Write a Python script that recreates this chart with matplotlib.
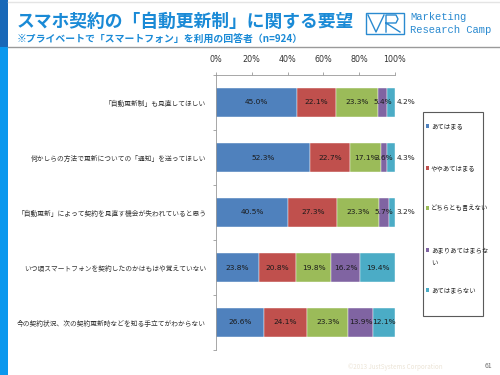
import matplotlib
matplotlib.use("Agg")
import matplotlib.pyplot as plt
from matplotlib.patches import Rectangle
from matplotlib.lines import Line2D
import numpy as np

plt.rcParams['font.family'] = ['Noto Sans CJK JP', 'DejaVu Sans']

categories = [
    "「自動更新制」も見直してほしい",
    "何かしらの方法で更新についての「通知」を送ってほしい",
    "「自動更新」によって契約を見直す機会が失われていると思う",
    "いつ頃スマートフォンを契約したのかはもはや覚えていない",
    "今の契約状況、次の契約更新時などを知る手立てがわからない",
]
series_names = ["あてはまる", "ややあてはまる", "どちらとも言えない", "あまりあてはまらない", "あてはまらない"]
legend_labels = ["あてはまる", "ややあてはまる", "どちらとも言えない", "あまりあてはまらな\nい", "あてはまらない"]
atehamaru = [45.0, 52.3, 40.5, 23.8, 26.6]
yaya = [22.1, 22.7, 27.3, 20.8, 24.1]
dochira = [23.3, 17.1, 23.3, 19.8, 23.3]
amari = [5.4, 3.6, 5.7, 16.2, 13.9]
atehamaranai = [4.2, 4.3, 3.2, 19.4, 12.1]
xticks = [0, 20, 40, 60, 80, 100]
xtick_labels = ["0%", "20%", "40%", "60%", "80%", "100%"]

series = [atehamaru, yaya, dochira, amari, atehamaranai]
colors = ["#4F81BD", "#C0504D", "#9BBB59", "#8064A2", "#4BACC6"]

W, H = 500, 375
fig = plt.figure(figsize=(5, 3.75), dpi=100)
fig.patch.set_facecolor("white")

# overlay for decorations (pixel coords)
ov = fig.add_axes([0, 0, 1, 1], zorder=0)
ov.set_xlim(0, W)
ov.set_ylim(H, 0)
ov.axis("off")

# left stripe
ov.add_patch(Rectangle((0, 0), 8, 47, color="#1868b8", lw=0))
ov.add_patch(Rectangle((0, 47), 8, H - 47, color="#0a98ee", lw=0))
# header separator
ov.add_line(Line2D([8, 500], [47, 47], color="#9a9a9a", lw=1.0))
ov.add_line(Line2D([8, 500], [1.5, 1.5], color="#e4e4e4", lw=1.0))

ov.text(17, 22, "スマホ契約の「自動更新制」に関する要望", fontsize=12.8, fontweight="bold",
        color="#1a8ad6", va="center", ha="left")
ov.text(17, 40, "※プライベートで「スマートフォン」を利用の回答者（n=924）", fontsize=7.1,
        fontweight="bold", color="#1a8ad6", va="center", ha="left")

# logo
lc = "#2a8ad0"
ov.add_patch(Rectangle((366, 13), 38, 21, fill=False, ec=lc, lw=1.0))
ov.add_line(Line2D([368, 376, 384], [15, 32, 15], color=lc, lw=1.0))
ov.add_line(Line2D([386, 386, 396, 398, 396, 386, 400], [32, 15, 15, 19, 23, 23, 32], color=lc, lw=1.0))
ov.text(410, 17, "Marketing", fontsize=7.6, color=lc, va="center", ha="left", family="Liberation Mono")
ov.text(410, 30, "Research Camp", fontsize=7.6, color=lc, va="center", ha="left", family="Liberation Mono")

# footer
ov.text(395, 367, "©2013 JustSystems Corporation", fontsize=4.5, color="#ece4d6", va="center", ha="center")
ov.text(488, 366, "61", fontsize=5, color="#707070", va="center", ha="center")

# legend box
ov.add_patch(Rectangle((423, 112), 60, 204, fill=False, ec="#5a5a5a", lw=0.8))
leg_y = [126, 168, 208, 250, 290]
for c, lab, yy in zip(colors, legend_labels, leg_y):
    ov.add_patch(Rectangle((425.5, yy - 2), 3.5, 3.5, color=c, lw=0))
    if "\n" in lab:
        ov.text(431, yy - 4, lab, fontsize=4.6, color="#222222", va="top", ha="left", linespacing=1.9)
    else:
        ov.text(431, yy, lab, fontsize=4.6, color="#222222", va="center", ha="left")

# main axes
ax = fig.add_axes([216 / W, 1 - 350 / H, (395 - 216) / W, (350 - 75) / H], zorder=1)
ax.patch.set_alpha(0)
y = np.arange(len(categories))
left = np.zeros(len(categories))
for si, (vals, c) in enumerate(zip(series, colors)):
    vals = np.array(vals)
    ax.barh(y, vals, left=left, height=0.51, color=c, edgecolor="white", linewidth=0.3, label=series_names[si])
    for i, v in enumerate(vals):
        if si == len(series) - 1 and v < 5:
            ax.text(100.8, y[i], f"{v:.1f}%", ha="left", va="center", fontsize=5.3, color="#222222",
                    family="DejaVu Sans")
        else:
            ax.text(left[i] + v / 2, y[i], f"{v:.1f}%", ha="center", va="center", fontsize=5.3,
                    color="#1a1a1a", family="DejaVu Sans")
    left += vals

ax.set_xlim(0, 100)
ax.set_ylim(len(categories) - 0.5, -0.5)
ax.xaxis.tick_top()
ax.set_xticks(xticks)
ax.set_xticklabels(xtick_labels, fontsize=5.8, color="#333333", family="DejaVu Sans")
ax.tick_params(axis="x", length=2.5, width=0.6, color="#999999", pad=5.5)
ax.set_yticks(y)
ax.set_yticklabels(categories, fontsize=4.85, color="#333333")
ax.tick_params(axis="y", length=0, pad=7)
ax.set_yticks(np.arange(-0.5, len(categories) + 0.5, 1), minor=True)
ax.tick_params(axis="y", which="minor", length=2.5, width=0.6, color="#999999")
for s in ["right", "bottom"]:
    ax.spines[s].set_visible(False)
for s in ["top", "left"]:
    ax.spines[s].set_color("#999999")
    ax.spines[s].set_linewidth(0.6)

fig.savefig("out.png", dpi=100, facecolor="white")
